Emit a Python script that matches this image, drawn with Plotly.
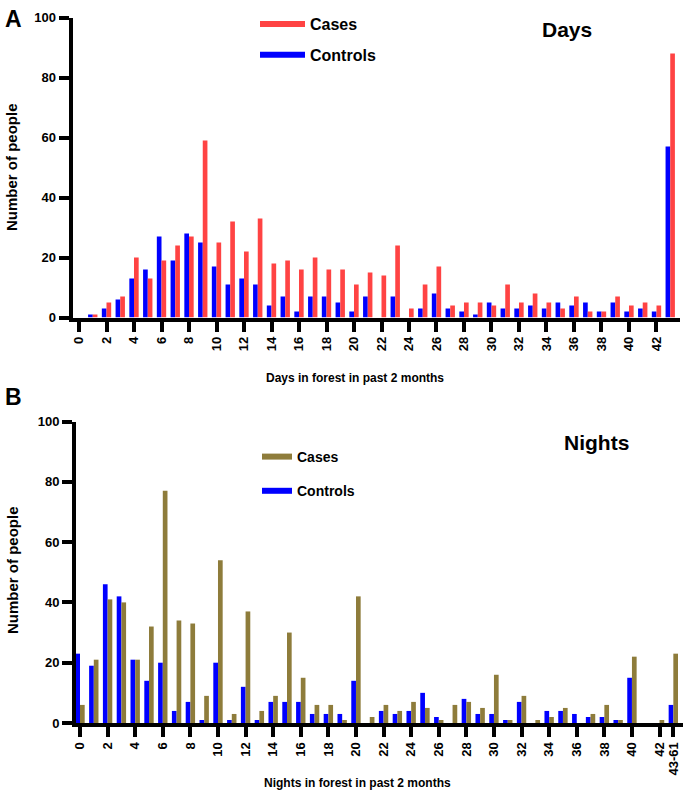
import plotly.graph_objects as go

# ---------------- data ----------------
days_cats = list(range(0, 44))
days_controls = [0, 1, 3, 6, 13, 16, 27, 19, 28, 25, 17, 11, 13, 11, 4, 7, 2, 7, 7, 5, 2, 7,
                 0, 7, 0, 3, 8, 3, 2, 1, 5, 3, 3, 4, 3, 5, 4, 5, 2, 5, 2, 3, 2, 57]
days_cases = [0, 1, 5, 7, 20, 13, 19, 24, 27, 59, 25, 32, 22, 33, 18, 19, 16, 20, 16, 16, 11, 15,
              14, 24, 3, 11, 17, 4, 5, 5, 4, 11, 5, 8, 5, 3, 7, 2, 2, 7, 4, 5, 4, 88]
days_tickvals = list(range(0, 43, 2))
days_ticktext = [str(v) for v in days_tickvals]

nights_cats = list(range(0, 44))
nights_controls = [23, 19, 46, 42, 21, 14, 20, 4, 7, 1, 20, 1, 12, 1, 7, 7, 7, 3, 3, 3, 14, 0,
                   4, 3, 4, 10, 2, 0, 8, 3, 3, 1, 7, 0, 4, 4, 3, 2, 2, 1, 15, 0, 0, 6]
nights_cases = [6, 21, 41, 40, 21, 32, 77, 34, 33, 9, 54, 3, 37, 4, 9, 30, 15, 6, 6, 1, 42, 2,
                6, 4, 7, 5, 1, 6, 7, 5, 16, 1, 9, 1, 2, 5, 0, 3, 6, 1, 22, 0, 1, 23]
nights_tickvals = list(range(0, 43, 2)) + [43]
nights_ticktext = [str(v) for v in range(0, 43, 2)] + ["43-61"]

y_tickvals = [0, 20, 40, 60, 80, 100]

# ---------------- style ----------------
W, H = 685, 795
RED = "#FF4343"
BLUE = "#0000FF"
OLIVE = "#8E7C3B"
FONT = "Liberation Sans"


def px(x):
    return x / W


def py(y):
    return 1 - y / H


fig = go.Figure()

# top panel bars
fig.add_trace(go.Bar(x=days_cats, y=days_controls, marker_color=BLUE, name="Controls",
                     xaxis="x", yaxis="y", showlegend=False, marker_line_width=0))
fig.add_trace(go.Bar(x=days_cats, y=days_cases, marker_color=RED, name="Cases",
                     xaxis="x", yaxis="y", showlegend=False, marker_line_width=0))
# bottom panel bars
fig.add_trace(go.Bar(x=nights_cats, y=nights_controls, marker_color=BLUE, name="Controls",
                     xaxis="x2", yaxis="y2", showlegend=False, marker_line_width=0))
fig.add_trace(go.Bar(x=nights_cats, y=nights_cases, marker_color=OLIVE, name="Cases",
                     xaxis="x2", yaxis="y2", showlegend=False, marker_line_width=0))

# legend entries (line swatches)
fig.add_trace(go.Scatter(x=[None], y=[None], mode="lines", line=dict(color=RED, width=6),
                         name="Cases", legend="legend", legendgroup="a1", xaxis="x", yaxis="y"))
fig.add_trace(go.Scatter(x=[None], y=[None], mode="lines", line=dict(color=BLUE, width=6),
                         name="Controls", legend="legend", legendgroup="a2", xaxis="x", yaxis="y"))
fig.add_trace(go.Scatter(x=[None], y=[None], mode="lines", line=dict(color=OLIVE, width=6),
                         name="Cases", legend="legend2", legendgroup="b1", xaxis="x2", yaxis="y2"))
fig.add_trace(go.Scatter(x=[None], y=[None], mode="lines", line=dict(color=BLUE, width=6),
                         name="Controls", legend="legend2", legendgroup="b2", xaxis="x2", yaxis="y2"))

axis_common = dict(showline=True, linewidth=4, linecolor="black", ticks="outside",
                   ticklen=10, tickwidth=4, tickcolor="black", showgrid=False,
                   zeroline=False, automargin=False,
                   tickfont=dict(family=FONT, size=13, color="black", weight="bold"))

fig.update_layout(
    template="none",
    width=W, height=H,
    margin=dict(l=0, r=0, t=0, b=0),
    paper_bgcolor="white", plot_bgcolor="white",
    barmode="group", bargap=0.32, bargroupgap=0,
    font=dict(family=FONT, color="black"),
    xaxis=dict(domain=[px(72.5), px(680)], range=[-0.473, 43.71], anchor="y",
               tickvals=days_tickvals, ticktext=days_ticktext, tickangle=-90, **axis_common),
    yaxis=dict(domain=[py(317.5), py(17.5)], range=[0, 100], anchor="x",
               tickvals=y_tickvals, **axis_common),
    xaxis2=dict(domain=[px(76), px(683)], range=[-0.29, 43.7], anchor="y2",
                tickvals=nights_tickvals, ticktext=nights_ticktext, tickangle=-90, **axis_common),
    yaxis2=dict(domain=[py(723), py(421.5)], range=[0, 100], anchor="x2",
                tickvals=y_tickvals, **axis_common),
    legend=dict(x=px(255), y=py(7), xanchor="left", yanchor="top", bgcolor="rgba(0,0,0,0)",
                font=dict(family=FONT, size=16, color="black", weight="bold"),
                itemwidth=45, tracegroupgap=7),
    legend2=dict(x=px(257), y=py(441), xanchor="left", yanchor="top", bgcolor="rgba(0,0,0,0)",
                 font=dict(family=FONT, size=14, color="black", weight="bold"),
                 itemwidth=30, tracegroupgap=13),
)

ann = [
    dict(text="A", x=px(3), y=py(4), xanchor="left", yanchor="top", size=23),
    dict(text="B", x=px(3), y=py(382), xanchor="left", yanchor="top", size=23),
    dict(text="Days", x=px(567), y=py(30), xanchor="center", yanchor="middle", size=21),
    dict(text="Nights", x=px(596), y=py(442), xanchor="center", yanchor="middle", size=21),
    dict(text="Days in forest in past 2 months", x=px(355), y=py(378), xanchor="center",
         yanchor="middle", size=12),
    dict(text="Nights in forest in past 2 months", x=px(357), y=py(783), xanchor="center",
         yanchor="middle", size=12),
    dict(text="Number of people", x=px(12), y=py(167), xanchor="center", yanchor="middle",
         size=15, textangle=-90),
    dict(text="Number of people", x=px(12), y=py(570), xanchor="center", yanchor="middle",
         size=15, textangle=-90),
]
fig.update_layout(annotations=[
    dict(text=a["text"], x=a["x"], y=a["y"], xref="paper", yref="paper",
         xanchor=a["xanchor"], yanchor=a["yanchor"], showarrow=False,
         textangle=a.get("textangle", 0),
         font=dict(family=FONT, size=a["size"], color="black", weight="bold"))
    for a in ann
])

fig.write_html("out.html", config={"displayModeBar": False},
               post_script="document.body.style.margin='0px';document.body.style.padding='0px';")
